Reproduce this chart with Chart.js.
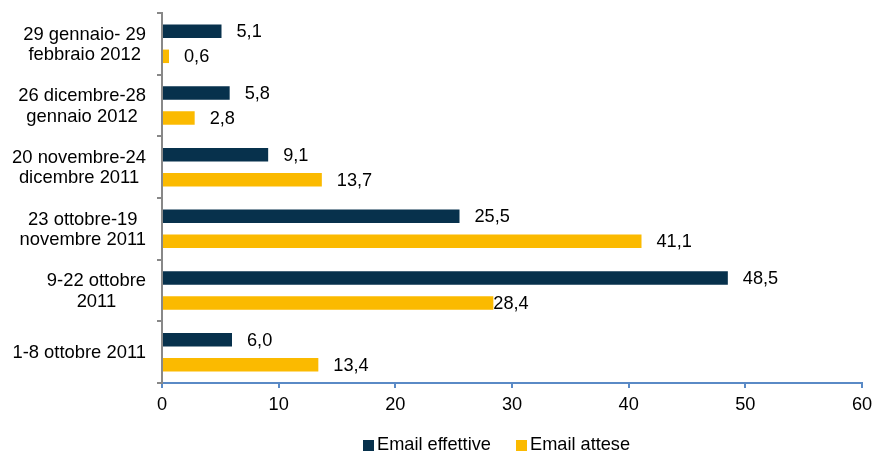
<!DOCTYPE html>
<html>
<head>
<meta charset="utf-8">
<script src="https://cdn.jsdelivr.net/npm/chart.js@4/dist/chart.umd.min.js"></script>
<style>
  html, body { margin: 0; padding: 0; background: #fff; }
  #wrap { position: relative; width: 874px; height: 452px; }
  .litem { position: absolute; top: 434px; height: 20px; line-height: 20px; font: 18.2px "Liberation Sans", Arial, sans-serif; color: #000; white-space: nowrap; }
  .litem span.box { display: inline-block; width: 11px; height: 11px; margin-right: 3px; vertical-align: -1px; }
</style>
</head>
<body>
<div id="wrap">
  <canvas id="c" width="874" height="452"></canvas>
</div>
<script>
const categories = [
  ["29 gennaio- 29", "febbraio 2012"],
  ["26 dicembre-28", "gennaio 2012"],
  ["20 novembre-24", "dicembre 2011"],
  ["23 ottobre-19", "novembre 2011"],
  ["9-22 ottobre", "2011"],
  ["1-8 ottobre 2011"]
];
const seriesNames = ["Email effettive", "Email attese"];
const emailEffettive = [5.1, 5.8, 9.1, 25.5, 48.5, 6.0];
const emailAttese = [0.6, 2.8, 13.7, 41.1, 28.4, 13.4];
const xTicks = [0, 10, 20, 30, 40, 50, 60];

const colors = ["#07314C", "#FBBA00"];
const FONT = '"Liberation Sans", Arial, sans-serif';

const fmt = v => v.toFixed(1).replace('.', ',');

const yLabelPlugin = {
  id: 'yLabels',
  afterDraw(chart) {
    const ctx = chart.ctx;
    const ys = chart.scales.y;
    ctx.save();
    ctx.font = '18.4px ' + FONT;
    ctx.fillStyle = '#000';
    ctx.textAlign = 'center';
    ctx.textBaseline = 'middle';
    const rightEdge = 146;
    const lh = 20.5;
    categories.forEach((lab, i) => {
      const lines = Array.isArray(lab) ? lab : [lab];
      const maxW = Math.max(...lines.map(l => ctx.measureText(l).width));
      const cx = rightEdge - maxW / 2;
      const cy = ys.getPixelForValue(i);
      lines.forEach((l, j) => {
        ctx.fillText(l, cx, cy + (j - (lines.length - 1) / 2) * lh + 1);
      });
    });
    ctx.restore();
  }
};

const dataLabelPlugin = {
  id: 'dataLabels',
  afterDatasetsDraw(chart) {
    const ctx = chart.ctx;
    ctx.save();
    ctx.font = '18.2px ' + FONT;
    ctx.fillStyle = '#000';
    ctx.textAlign = 'left';
    ctx.textBaseline = 'middle';
    chart.data.datasets.forEach((ds, di) => {
      const meta = chart.getDatasetMeta(di);
      meta.data.forEach((bar, i) => {
        const v = ds.data[i];
        // label for the 9-22 ottobre "attese" bar sits right at the bar end in the reference
        const gap = (di === 1 && i === 4) ? 0 : 15;
        ctx.fillText(fmt(v), bar.x + gap, bar.y + 1);
      });
    });
    ctx.restore();
  }
};

new Chart(document.getElementById('c'), {
  type: 'bar',
  data: {
    labels: categories,
    datasets: [
      { label: seriesNames[0], data: emailEffettive, backgroundColor: colors[0] },
      { label: seriesNames[1], data: emailAttese, backgroundColor: colors[1] }
    ]
  },
  options: {
    indexAxis: 'y',
    responsive: false,
    animation: false,
    devicePixelRatio: 1,
    layout: { padding: { top: 13, right: 12, left: 0, bottom: 0 } },
    datasets: { bar: { categoryPercentage: 0.81, barPercentage: 0.54 } },
    plugins: {
      legend: { display: false },
      tooltip: { enabled: false }
    },
    scales: {
      x: {
        min: 0, max: 60,
        afterBuildTicks(scale) { scale.ticks = xTicks.map(v => ({ value: v })); },
        afterFit(scale) { scale.height = 69; scale.paddingRight = 0; scale.paddingLeft = 0; },
        border: { display: true, color: '#5A8AC6', width: 2 },
        grid: { drawOnChartArea: false, drawTicks: true, tickLength: 5, color: '#5A8AC6', lineWidth: 2 },
        ticks: { font: { family: FONT, size: 18.2 }, color: '#000', padding: 6, maxRotation: 0 }
      },
      y: {
        afterFit(scale) { scale.width = 162; },
        border: { display: true, color: '#888888', width: 2 },
        grid: { drawOnChartArea: false, drawTicks: true, tickLength: 5, color: '#888888', lineWidth: 2, offset: true },
        ticks: { display: false }
      }
    }
  },
  plugins: [yLabelPlugin, dataLabelPlugin]
});

const wrap = document.getElementById('wrap');
const legendLefts = [363, 516];
seriesNames.forEach((n, i) => {
  const it = document.createElement('div');
  it.className = 'litem';
  it.style.left = legendLefts[i] + 'px';
  const b = document.createElement('span');
  b.className = 'box';
  b.style.background = colors[i];
  it.appendChild(b);
  it.appendChild(document.createTextNode(n));
  wrap.appendChild(it);
});
</script>
</body>
</html>
